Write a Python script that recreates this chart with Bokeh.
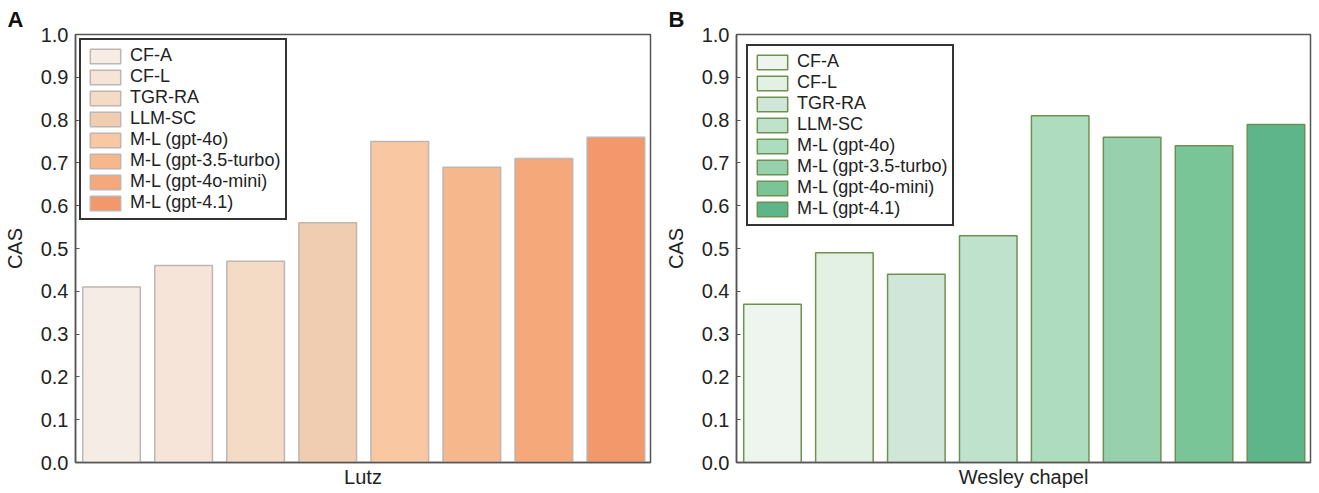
from bokeh.plotting import figure
from bokeh.models import Range1d, FixedTicker, NumeralTickFormatter, Legend, LegendItem, ColumnDataSource
from bokeh.layouts import row
from bokeh.embed import file_html
from bokeh.resources import INLINE

methods = ["CF-A", "CF-L", "TGR-RA", "LLM-SC", "M-L (gpt-4o)", "M-L (gpt-3.5-turbo)",
           "M-L (gpt-4o-mini)", "M-L (gpt-4.1)"]
lutz_values = [0.41, 0.46, 0.47, 0.56, 0.75, 0.69, 0.71, 0.76]
wesley_values = [0.37, 0.49, 0.44, 0.53, 0.81, 0.76, 0.74, 0.79]
y_ticks = [0.0, 0.1, 0.2, 0.3, 0.4, 0.5, 0.6, 0.7, 0.8, 0.9, 1.0]

orange_fills = ["#F5ECE6", "#F7E4D8", "#F4DBC6", "#F0CDB1", "#F9C7A1", "#F7B78D", "#F5A87A", "#F2986A"]
green_fills = ["#EEF5EE", "#E3F1E5", "#CFE6D9", "#BFE2CC", "#AEDCBF", "#97D0AC", "#79C598", "#5EB58A"]

FONT = "Liberation Sans"
TXT = "#222222"


def make_panel(letter, xlabel, values, fills, edge, width, left, right, margin):
    p = figure(width=width, height=490, x_range=Range1d(-0.5, 7.48), y_range=Range1d(0, 1.0),
               output_backend="svg", toolbar_location=None,
               min_border_left=left, min_border_right=right, min_border_top=34, min_border_bottom=10)
    src = ColumnDataSource(dict(x=list(range(len(methods))), top=values, fill=fills, label=methods))
    r = p.vbar(x="x", top="top", width=0.8, bottom=0, source=src, fill_color="fill",
               line_color=edge, line_width=1.5)

    p.title.text = letter
    p.title.text_font = FONT
    p.title.text_font_size = "22px"
    p.title.text_font_style = "bold"
    p.title.text_color = "#111111"
    p.title.align = "left"
    p.title.offset = -68
    p.title.standoff = 6

    p.xgrid.visible = False
    p.ygrid.visible = False
    p.outline_line_color = "#555555"
    p.outline_line_width = 1.5
    p.outline_line_alpha = 1.0

    xa = p.xaxis[0]
    xa.ticker = FixedTicker(ticks=[])
    xa.major_tick_out = 0
    xa.major_tick_in = 0
    xa.minor_tick_out = 0
    xa.minor_tick_in = 0
    xa.major_label_standoff = 0
    xa.axis_label = xlabel
    xa.axis_label_standoff = 3
    xa.axis_label_text_font = FONT
    xa.axis_label_text_font_size = "20px"
    xa.axis_label_text_font_style = "normal"
    xa.axis_label_text_color = TXT
    xa.axis_line_color = "#555555"
    xa.axis_line_width = 1.5

    ya = p.yaxis[0]
    ya.ticker = FixedTicker(ticks=y_ticks)
    ya.formatter = NumeralTickFormatter(format="0.0")
    ya.major_tick_in = 4
    ya.major_tick_out = 0
    ya.minor_tick_in = 0
    ya.minor_tick_out = 0
    ya.major_tick_line_color = "#555555"
    ya.major_label_standoff = 7
    ya.major_label_text_font = FONT
    ya.major_label_text_font_size = "20px"
    ya.major_label_text_color = TXT
    ya.axis_label = "CAS"
    ya.axis_label_standoff = 12
    ya.axis_label_text_font = FONT
    ya.axis_label_text_font_size = "20px"
    ya.axis_label_text_font_style = "normal"
    ya.axis_label_text_color = TXT
    ya.axis_line_color = "#555555"
    ya.axis_line_width = 1.5

    items = [LegendItem(label=m, renderers=[r], index=i) for i, m in enumerate(methods)]
    leg = Legend(items=items, location="top_left", margin=margin, padding=5, spacing=0,
                 glyph_width=38, glyph_height=18, label_height=18, label_standoff=6,
                 label_text_font=FONT, label_text_font_size="18px", label_text_color=TXT,
                 border_line_color="#333333", border_line_width=2, border_line_alpha=1.0,
                 background_fill_alpha=1.0)
    p.add_layout(leg)
    return p


pa = make_panel("A", "Lutz", lutz_values, orange_fills, "#BDB6B2", 661, 75, 11, 4)
pb = make_panel("B", "Wesley chapel", wesley_values, green_fills, "#6F9150", 654, 73, 5, 10)

layout = row(pa, pb)
open("out.html", "w").write(file_html(layout, INLINE))
